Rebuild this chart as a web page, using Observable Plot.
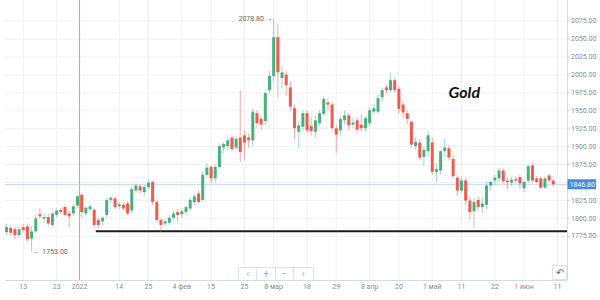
<!DOCTYPE html>
<html><head><meta charset="utf-8">
<script src="https://cdn.jsdelivr.net/npm/d3@7"></script>
<script src="https://cdn.jsdelivr.net/npm/@observablehq/plot@0.6"></script>
<style>
body{margin:0;background:#fff;}
#wrap{position:relative;width:600px;height:300px;font-family:Roboto,sans-serif;overflow:hidden;}
.nav{position:absolute;top:267px;left:238px;height:13px;display:flex;border:1px solid #dfe4ea;border-bottom:none;box-sizing:border-box;background:#fff;}
.nav div{width:18.4px;height:12px;border-right:1px solid #dfe4ea;box-sizing:border-box;color:#a8adb3;font-size:10px;line-height:12px;text-align:center;}
.nav div:last-child{border-right:none;}
.reset{position:absolute;left:552px;top:265px;width:15px;height:15px;border:1px solid #dfe4ea;box-sizing:border-box;background:#fff;color:#666;font-size:10px;line-height:13px;text-align:center;}
</style></head><body><div id="wrap"></div>
<script>
const firstDay = "2021-12-07", lastDay = "2022-06-10";
const holidays = ["2021-12-24", "2022-04-15"];
const open  = [1780,1786,1784,1776,1787,1788,1771,1781,1805,1799,1801,1790,1804,1811,1815,1806,1806,1817,1832,1806,1812,1811,1797,1795,1804,1825,1827,1816,1818,1820,1810,1838,1844,1836,1843,1850,1822,1797,1792,1793,1800,1808,1805,1808,1813,1822,1834,1825,1860,1871,1855,1871,1898,1900,1912,1898,1912,1915,1912,1908,1946,1938,1935,1978,1998,2052,1995,2000,1982,1953,1920,1927,1946,1928,1920,1932,1945,1961,1958,1925,1922,1936,1943,1930,1936,1930,1925,1932,1948,1948,1968,1982,1978,1992,1980,1958,1946,1934,1900,1905,1885,1893,1905,1864,1866,1893,1897,1882,1856,1838,1852,1824,1809,1825,1815,1818,1845,1852,1855,1866,1852,1849,1854,1857,1841,1852,1873,1855,1855,1842,1859,1852];
const high  = [1791,1789,1787,1788,1791,1792,1788,1805,1813,1806,1805,1809,1813,1814,1818,1810,1819,1832,1834,1816,1820,1814,1800,1803,1827,1830,1830,1822,1821,1823,1844,1848,1847,1846,1853,1852,1826,1800,1798,1804,1810,1812,1812,1818,1828,1834,1838,1865,1876,1874,1874,1904,1906,1912,1915,1914,1978,1922,1918,1952,1950,1942,1976,2005,2078.8,2070,2012,2006,1990,1958,1935,1950,1950,1940,1942,1950,1970,1966,1962,1930,1942,1950,1946,1938,1940,1945,1942,1954,1958,1972,1982,1986,2002,1995,1983,1962,1950,1936,1912,1910,1900,1922,1912,1875,1895,1911,1902,1888,1860,1858,1857,1828,1828,1830,1828,1850,1852,1860,1870,1869,1856,1857,1858,1860,1852,1874,1877,1858,1858,1858,1862,1855];
const low   = [1777,1775,1770,1772,1780,1767,1753,1779,1798,1793,1789,1787,1801,1805,1802,1787,1803,1814,1800,1802,1808,1787,1786,1790,1800,1820,1812,1812,1810,1804,1806,1834,1834,1830,1840,1818,1794,1780,1788,1790,1798,1795,1800,1804,1810,1818,1820,1822,1856,1848,1850,1868,1890,1895,1893,1894,1878,1880,1898,1900,1926,1922,1930,1974,1990,1967,1980,1970,1950,1909,1897,1922,1918,1915,1912,1928,1942,1950,1920,1890,1915,1930,1922,1925,1918,1920,1920,1928,1944,1945,1962,1972,1975,1975,1945,1940,1930,1898,1895,1880,1872,1885,1860,1850,1860,1885,1880,1855,1830,1835,1818,1797,1786,1810,1806,1812,1838,1846,1850,1848,1840,1845,1848,1840,1836,1848,1850,1848,1840,1840,1849,1844];
const close = [1787,1779,1776,1784,1783,1770,1781,1799,1802,1801,1792,1806,1810,1808,1804,1802,1816,1830,1808,1814,1816,1790,1790,1800,1825,1828,1815,1819,1813,1806,1840,1845,1838,1843,1849,1822,1797,1790,1795,1800,1806,1804,1809,1815,1825,1830,1822,1860,1870,1855,1871,1900,1903,1908,1896,1910,1892,1905,1908,1948,1932,1930,1974,1998,2052,2003,2003,1985,1955,1925,1929,1946,1922,1921,1936,1946,1966,1958,1925,1916,1938,1943,1929,1933,1923,1925,1939,1950,1953,1967,1978,1978,1992,1978,1952,1947,1938,1902,1906,1884,1895,1915,1864,1868,1893,1898,1884,1858,1838,1852,1824,1808,1822,1815,1820,1845,1850,1856,1866,1851,1850,1853,1852,1848,1850,1872,1852,1850,1842,1855,1852,1846.8];
const tickDates  = ["2021-12-13","2021-12-23","2022-01-01","2022-01-14","2022-01-25","2022-02-04","2022-02-15","2022-02-25","2022-03-08","2022-03-18","2022-03-29","2022-04-08","2022-04-20","2022-05-01","2022-05-11","2022-05-22","2022-06-01","2022-06-11"];
const tickLabels = ["13","23","2022","14","25","4 фев","15","25","8 мар","18","29","8 апр","20","1 май","11","22","1 июн","11"];
const yGrid = [1775,1800,1825,1850,1875,1900,1925,1950,1975,2000,2025,2050,2075];
const yLabels = [1775,1800,1825,1875,1900,1925,1950,1975,2000,2025,2050,2075];
const lastPrice = 1846.8;
const supportLevel = 1782;
const supportFrom = "2022-01-07";
const title = "Gold";

const iso = d3.utcFormat("%Y-%m-%d");
const days = d3.utcDay.range(new Date(firstDay), d3.utcDay.offset(new Date(lastDay), 1))
  .filter(d => d.getUTCDay() !== 0 && d.getUTCDay() !== 6 && !holidays.includes(iso(d)));
const data = days.map((d, i) => ({i, date: d, open: open[i], high: high[i], low: low[i], close: close[i]}));
const idxOf = s => { const t = new Date(s); const k = days.findIndex(d => d >= t); return k < 0 ? days.length : k; };
const ticks = tickDates.map((s, k) => ({x: idxOf(s) - (s.endsWith("-01-01") ? 0.5 : 0), label: tickLabels[k], year: s.endsWith("-01-01")}));
const xDomain = [-0.25, days.length + 2.4];
const yDomain = [1713.2, 2103.9];
const peak = data.reduce((a, b) => b.high > a.high ? b : a);
const trough = data.reduce((a, b) => b.low < a.low ? b : a);
const col = d => d.close >= d.open ? "#4caf7f" : "#ee5b50";

const chart = Plot.plot({
  width: 600, height: 300,
  marginLeft: 5, marginRight: 33, marginTop: 0, marginBottom: 20,
  x: {domain: xDomain, axis: null},
  y: {domain: yDomain, axis: null},
  style: {fontFamily: "Roboto, sans-serif", fontSize: "7px", background: "#fff"},
  marks: [
    Plot.ruleY(yGrid, {stroke: "#eef1f5"}),
    Plot.ruleX(ticks.filter(t => !t.year), {x: "x", stroke: "#eef1f5"}),
    Plot.ruleX(ticks.filter(t => t.year), {x: "x", stroke: "#a8a8a8"}),
    Plot.ruleY([lastPrice], {stroke: "#bcd6f4"}),
    Plot.ruleY([yDomain[0]], {stroke: "#d3dbe6"}),
    Plot.ruleX([xDomain[1]], {stroke: "#d3dbe6"}),
    Plot.ruleY([supportLevel], {x1: idxOf(supportFrom) - 0.5, x2: xDomain[1], stroke: "#1c1c1c", strokeWidth: 2}),
    Plot.ruleX(data, {x: "i", y1: "low", y2: "high", stroke: col, strokeOpacity: 0.5}),
    Plot.ruleX(data, {x: "i", y1: "open", y2: "close", stroke: col, strokeWidth: 3}),
    Plot.axisY(yLabels, {anchor: "right", tickSize: 2, tickPadding: 1.5, tickFormat: d3.format(".2f"), fontSize: 7, fill: "#8c8c8c", stroke: "#cfd6df"}),
    Plot.text(ticks, {x: "x", frameAnchor: "bottom", dy: 8, text: "label", fontSize: 7, fill: "#8c8c8c"}),
    Plot.text([peak], {x: "i", y: "high", text: d => d.high.toFixed(2) + " →", textAnchor: "end", dx: -1, fontSize: 7, fill: "#666"}),
    Plot.text([trough], {x: "i", y: "low", text: d => "← " + d.low.toFixed(2), textAnchor: "start", dx: 2, fontSize: 7, fill: "#666"}),
    Plot.text([title], {text: d => d, frameAnchor: "top-left", dx: 443, dy: 86, textAnchor: "start", fontSize: 16, fontWeight: "bold", fontStyle: "italic", fill: "#111", fontFamily: "Lato, sans-serif"})
  ]
});

const svg = d3.select(chart);
const yy = chart.scale("y").apply(lastPrice);
svg.append("rect").attr("x", 567.5).attr("y", yy - 5).attr("width", 28.5).attr("height", 10).attr("fill", "#3d8ee4");
svg.append("text").attr("x", 569.5).attr("y", yy).attr("dy", "0.35em").attr("text-anchor", "start")
  .attr("fill", "#fff").attr("font-size", 7).attr("font-family", "Roboto, sans-serif").text(lastPrice.toFixed(2));

const wrap = document.getElementById("wrap");
wrap.appendChild(chart);
const nav = document.createElement("div");
nav.className = "nav";
["‹", "+", "−", "›"].forEach(g => { const b = document.createElement("div"); b.textContent = g; nav.appendChild(b); });
wrap.appendChild(nav);
const reset = document.createElement("div");
reset.className = "reset";
reset.textContent = "↶";
wrap.appendChild(reset);
</script>
</body></html>
